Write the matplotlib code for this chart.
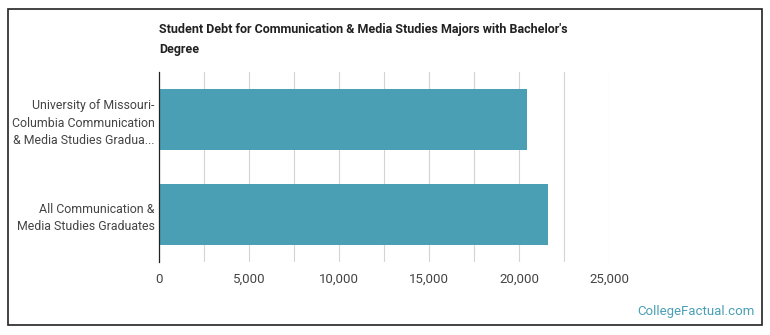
import matplotlib.pyplot as plt
from matplotlib.patches import Rectangle

# data
categories = ["University of Missouri-\nColumbia Communication\n& Media Studies Gradua...",
              "All Communication &\nMedia Studies Graduates"]
debt = [20450, 21620]
ticks = [0, 5000, 10000, 15000, 20000, 25000]

plt.rcParams['font.family'] = ['Roboto', 'DejaVu Sans']

fig = plt.figure(figsize=(7.7, 3.35), dpi=100)
ax = fig.add_axes([159 / 770, 1 - 262 / 335, 450 / 770, 190 / 335])

# outer frame
fig.patches.append(Rectangle((8 / 770, 10 / 335), 754 / 770, 316 / 335, transform=fig.transFigure,
                             fill=False, edgecolor='#222222', linewidth=1.2))

y = [1, 0]
ax.barh(y, debt, height=0.65, color='#4a9fb5', zorder=2)

ax.set_xlim(0, 25000)
ax.set_ylim(-0.5, 1.5)
ax.set_xticks(ticks)
ax.set_xticklabels([f"{t:,}" for t in ticks])
ax.set_xticks(range(2500, 25000, 5000), minor=True)
ax.set_yticks(y)
ax.set_yticklabels(categories)
ax.grid(axis='x', which='both', color='#d4d4d4', linewidth=0.8, zorder=0)
ax.tick_params(axis='both', which='both', length=0, colors='#444444', labelsize=9.5, pad=4)
ax.tick_params(axis='y', labelsize=8.9, pad=3)
ax.tick_params(axis='x', pad=8)
for lbl in ax.get_yticklabels():
    lbl.set_horizontalalignment('right')
    lbl.set_linespacing(1.45)

for s in ['top', 'right', 'bottom']:
    ax.spines[s].set_visible(False)
ax.spines['left'].set_color('#222222')
ax.spines['left'].set_linewidth(0.9)

fig.text(159 / 770, 1 - 40 / 335, "Student Debt for Communication & Media Studies Majors with Bachelor's\nDegree",
         fontsize=9, fontweight='bold', color='#222222', va='center', ha='left', linespacing=1.7)

fig.text(755 / 770, 1 - 312 / 335, "CollegeFactual.com", fontsize=9.5, color='#4a9fb5',
         ha='right', va='center')

fig.savefig('out.png', dpi=100)
